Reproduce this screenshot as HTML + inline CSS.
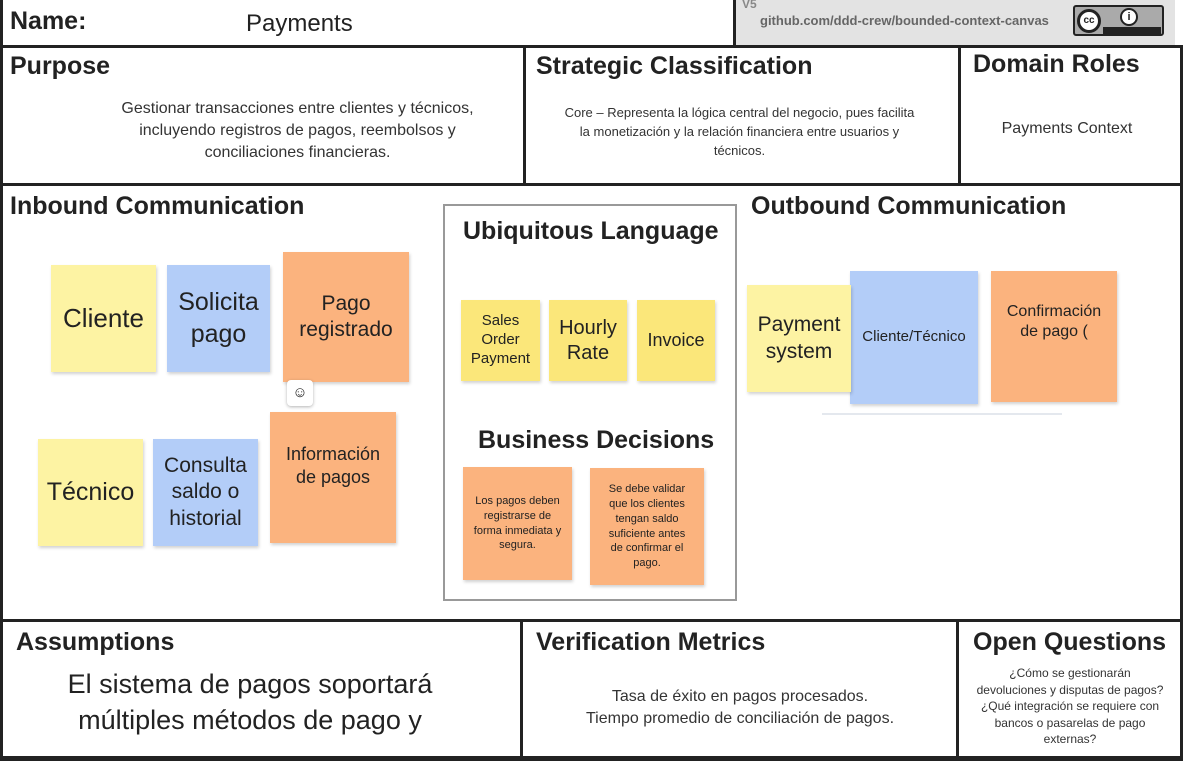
<!DOCTYPE html>
<html><head><meta charset="utf-8"><style>
*{margin:0;padding:0;box-sizing:border-box}
body{width:1186px;height:761px;background:#fff;position:relative;overflow:hidden;font-family:"Liberation Sans Narrow","Liberation Sans",sans-serif;color:#222}
.a{position:absolute}
.ln{position:absolute;background:#222}
h{position:absolute;font-weight:bold;font-size:25px;color:#222;white-space:nowrap}
.t{position:absolute;text-align:center;color:#333}
.s{position:absolute;display:flex;align-items:center;justify-content:center;text-align:center;font-family:"Liberation Sans",sans-serif;color:#222;box-shadow:1px 2px 3px rgba(0,0,0,.18);line-height:1.25}
.y{background:#fdf3a3}.b{background:#b3cdf8}.o{background:#fbb37e}.y2{background:#fbe77a}
</style></head><body>
<div class="a" style="left:735px;top:0;width:440px;height:46px;background:#e3e3e3"></div>
<div class="a" style="left:742px;top:-3px;font-size:12px;color:#888;font-weight:bold">V5</div>
<div class="a" style="left:760px;top:13px;font-size:13px;color:#666;font-weight:bold">github.com/ddd-crew/bounded-context-canvas</div>
<div class="a" style="left:1073px;top:5px;width:91px;height:31px;background:#aaa;border:2px solid #222;border-radius:3px"></div>
<div class="a" style="left:1077px;top:9px;width:24px;height:24px;border:3px solid #222;border-radius:50%;background:#fff;font:bold 10px sans-serif;text-align:center;line-height:18px">cc</div>
<div class="a" style="left:1120px;top:8px;width:18px;height:18px;border:2px solid #222;border-radius:50%;background:#fff;font:bold 11px sans-serif;text-align:center;line-height:14px">i</div>
<div class="a" style="left:1103px;top:27px;width:58px;height:8px;background:#222"></div>
<div class="ln" style="left:0;top:0;width:3px;height:761px"></div>
<div class="ln" style="left:1180px;top:45px;width:3px;height:716px"></div>
<div class="ln" style="left:0;top:45px;width:1183px;height:3px"></div>
<div class="ln" style="left:733px;top:0;width:3px;height:47px"></div>
<div class="ln" style="left:0;top:183px;width:1183px;height:3px"></div>
<div class="ln" style="left:523px;top:46px;width:3px;height:139px"></div>
<div class="ln" style="left:958px;top:46px;width:3px;height:139px"></div>
<div class="ln" style="left:0;top:619px;width:1183px;height:3px"></div>
<div class="ln" style="left:520px;top:620px;width:3px;height:140px"></div>
<div class="ln" style="left:956px;top:620px;width:3px;height:140px"></div>
<div class="ln" style="left:0;top:756px;width:1183px;height:5px"></div>
<div class="a" style="left:443px;top:204px;width:294px;height:397px;border:2px solid #999"></div>

<h style="left:10px;top:7px">Name:</h>
<div class="a" style="left:246px;top:10px;font-size:24px;color:#222">Payments</div>
<h style="left:10px;top:52px">Purpose</h>
<h style="left:536px;top:52px">Strategic Classification</h>
<h style="left:973px;top:50px">Domain Roles</h>
<div class="t" style="left:105px;top:98px;width:385px;font-size:16px;line-height:22px">Gestionar transacciones entre clientes y técnicos, incluyendo registros de pagos, reembolsos y conciliaciones financieras.</div>
<div class="t" style="left:562px;top:103px;width:355px;font-size:13px;line-height:19px">Core – Representa la lógica central del negocio, pues facilita la monetización y la relación financiera entre usuarios y técnicos.</div>
<div class="t" style="left:962px;top:120px;width:210px;font-size:16px">Payments Context</div>
<h style="left:10px;top:192px">Inbound Communication</h>
<h style="left:751px;top:192px">Outbound Communication</h>
<h style="left:463px;top:217px">Ubiquitous Language</h>
<h style="left:478px;top:426px">Business Decisions</h>
<h style="left:16px;top:628px">Assumptions</h>
<h style="left:536px;top:628px">Verification Metrics</h>
<h style="left:973px;top:628px">Open Questions</h>
<div class="t" style="left:30px;top:666px;width:440px;font-size:27px;line-height:36px;color:#222">El sistema de pagos soportará múltiples métodos de pago y</div>
<div class="t" style="left:540px;top:686px;width:400px;font-size:16px;line-height:22px">Tasa de éxito en pagos procesados.<br>Tiempo promedio de conciliación de pagos.</div>
<div class="t" style="left:975px;top:665px;width:190px;font-size:12px;line-height:16.5px">¿Cómo se gestionarán devoluciones y disputas de pagos? ¿Qué integración se requiere con bancos o pasarelas de pago externas?</div>

<div class="s y" style="left:51px;top:265px;width:105px;height:107px;font-size:26px">Cliente</div>
<div class="s b" style="left:167px;top:265px;width:103px;height:107px;font-size:25px">Solicita<br>pago</div>
<div class="s o" style="left:283px;top:252px;width:126px;height:130px;font-size:21px">Pago<br>registrado</div>
<div class="a" style="left:287px;top:380px;width:26px;height:26px;background:#fff;border-radius:4px;box-shadow:0 1px 3px rgba(0,0,0,.3);font-size:15px;text-align:center;line-height:26px">☺</div>
<div class="s y" style="left:38px;top:439px;width:105px;height:107px;font-size:25px">Técnico</div>
<div class="s b" style="left:153px;top:439px;width:105px;height:107px;font-size:21px">Consulta<br>saldo o<br>historial</div>
<div class="s o" style="left:270px;top:412px;width:126px;height:131px;font-size:18px;padding-bottom:24px">Información<br>de pagos</div>
<div class="s y2" style="left:461px;top:300px;width:79px;height:81px;font-size:15px">Sales<br>Order<br>Payment</div>
<div class="s y2" style="left:549px;top:300px;width:78px;height:81px;font-size:20px">Hourly<br>Rate</div>
<div class="s y2" style="left:637px;top:300px;width:78px;height:81px;font-size:18px">Invoice</div>
<div class="s o" style="left:463px;top:467px;width:109px;height:113px;font-size:11px;padding:4px 10px;line-height:1.35">Los pagos deben registrarse de forma inmediata y segura.</div>
<div class="s o" style="left:590px;top:468px;width:114px;height:117px;font-size:11px;padding:6px 14px;line-height:1.35">Se debe validar que los clientes tengan saldo suficiente antes de confirmar el pago.</div>
<div class="a" style="left:822px;top:413px;width:240px;height:2px;background:#e4e8ee"></div>
<div class="s b" style="left:850px;top:271px;width:128px;height:133px;font-size:15px">Cliente/Técnico</div>
<div class="s y" style="left:747px;top:285px;width:104px;height:107px;font-size:21px">Payment<br>system</div>
<div class="s o" style="left:991px;top:271px;width:126px;height:131px;font-size:16px;padding-bottom:30px">Confirmación<br>de pago (</div>
</body></html>
